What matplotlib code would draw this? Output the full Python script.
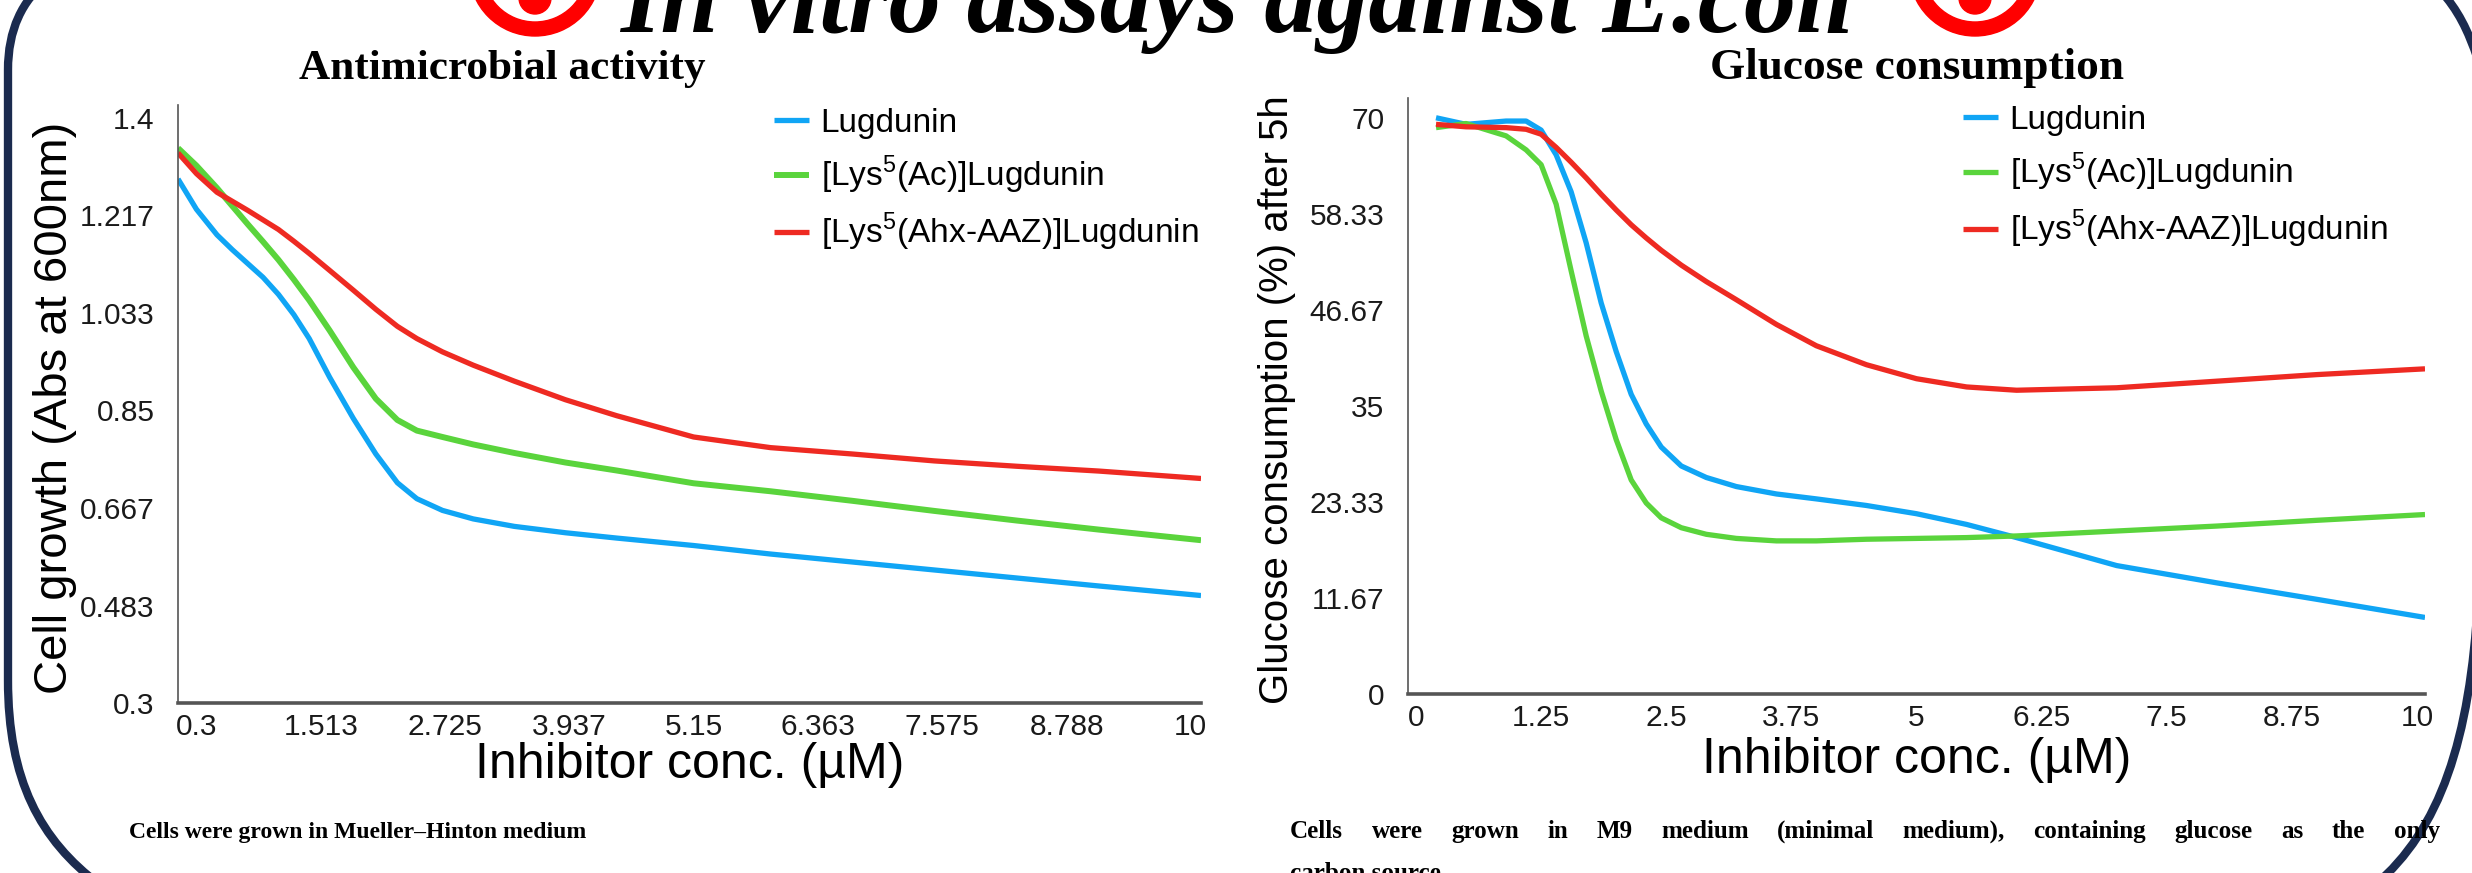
import matplotlib
matplotlib.use("Agg")
import matplotlib.pyplot as plt
from matplotlib.patches import Annulus, Circle, PathPatch
from matplotlib.path import Path

plt.rcParams["font.family"] = "Liberation Sans"

# ---- data ----
series_names = ["Lugdunin",
                r"[Lys$^{\mathregular{5}}$(Ac)]Lugdunin",
                r"[Lys$^{\mathregular{5}}$(Ahx-AAZ)]Lugdunin"]
colors = ["#10a5f5", "#5ad43c", "#ee2a22"]

# antimicrobial activity (cell growth, Abs 600nm)
x_growth = [0.12, 0.3, 0.5, 0.65, 0.8, 0.95, 1.1, 1.25, 1.4, 1.6, 1.83, 2.05,
            2.26, 2.45, 2.7, 3.0, 3.4, 3.9, 4.4, 5.15, 5.9, 6.7, 7.5, 8.3,
            9.1, 10.1]
growth_lug = [1.285, 1.228, 1.18, 1.152, 1.126, 1.1, 1.068, 1.03, 0.985, 0.912,
              0.835, 0.768, 0.714, 0.684, 0.662, 0.646, 0.632, 0.62, 0.61,
              0.596, 0.58, 0.565, 0.55, 0.535, 0.52, 0.502]
growth_ac = [1.343, 1.31, 1.268, 1.234, 1.2, 1.167, 1.133, 1.096, 1.057, 1.0,
             0.931, 0.872, 0.832, 0.812, 0.8, 0.786, 0.77, 0.752, 0.737, 0.713,
             0.698, 0.68, 0.661, 0.643, 0.626, 0.606]
growth_aaz = [1.334, 1.295, 1.26, 1.243, 1.226, 1.208, 1.19, 1.168, 1.145,
              1.113, 1.076, 1.04, 1.008, 0.985, 0.96, 0.935, 0.905, 0.87, 0.84,
              0.8, 0.78, 0.768, 0.755, 0.745, 0.736, 0.722]
growth_yticks = [0.3, 0.483, 0.667, 0.85, 1.033, 1.217, 1.4]
growth_xticks = [0.3, 1.513, 2.725, 3.937, 5.15, 6.363, 7.575, 8.788, 10]

# glucose consumption (%) after 5h
x_gluc = [0.2, 0.5, 0.9, 1.1, 1.25, 1.4, 1.55, 1.7, 1.85, 2.0, 2.15, 2.3, 2.45,
          2.65, 2.9, 3.2, 3.6, 4.0, 4.5, 5.0, 5.5, 6.0, 7.0, 8.0, 9.0, 10.08]
gluc_lug = [70.0, 69.2, 69.6, 69.6, 68.5, 65.5, 61.0, 54.8, 47.5, 41.6, 36.4,
            32.8, 30.0, 27.7, 26.3, 25.2, 24.3, 23.7, 22.9, 21.9, 20.6, 19.0,
            15.6, 13.5, 11.5, 9.3]
gluc_ac = [68.8, 69.3, 67.8, 66.1, 64.3, 59.5, 51.4, 43.5, 36.8, 30.9, 26.0,
           23.2, 21.4, 20.2, 19.4, 18.9, 18.6, 18.6, 18.8, 18.9, 19.0, 19.2,
           19.8, 20.4, 21.1, 21.8]
gluc_aaz = [69.2, 68.9, 68.8, 68.6, 68.0, 66.4, 64.6, 62.7, 60.7, 58.8, 57.0,
            55.4, 53.9, 52.1, 50.1, 47.9, 44.9, 42.3, 40.0, 38.3, 37.3, 36.9,
            37.2, 38.0, 38.8, 39.5]
gluc_yticks = [0, 11.67, 23.33, 35, 46.67, 58.33, 70]
gluc_xticks = [0, 1.25, 2.5, 3.75, 5, 6.25, 7.5, 8.75, 10]

W, H = 2472, 873
fig = plt.figure(figsize=(W / 100, H / 100), dpi=100)

# background layer in pixel coordinates (frame, headings, captions)
bg = fig.add_axes([0, 0, 1, 1])
bg.set_xlim(0, W)
bg.set_ylim(H, 0)
bg.axis("off")
renderer = fig.canvas.get_renderer()


def fit_width(t, target):
    w = t.get_window_extent(renderer).width
    t.set_fontsize(t.get_fontsize() * target / w)


def justify(words, x0, x1, y, **kw):
    texts = [bg.text(x0, y, w, **kw) for w in words]
    widths = [t.get_window_extent(renderer).width for t in texts]
    gap = (x1 - x0 - sum(widths)) / (len(words) - 1)
    x = x0
    for t, w in zip(texts, widths):
        t.set_x(x)
        x += w + gap


navy = "#1b2b4f"
frame_left = Path([(48, -20), (22, 0), (8, 30), (8, 70), (8, 680),
                   (8, 780), (40, 840), (100, 885)],
                  [Path.MOVETO, Path.CURVE4, Path.CURVE4, Path.CURVE4, Path.LINETO,
                   Path.CURVE4, Path.CURVE4, Path.CURVE4])
frame_rb = Path([(2478, 600), (2470, 740), (2440, 830), (2375, 885)],
                [Path.MOVETO, Path.CURVE4, Path.CURVE4, Path.CURVE4])
frame_rt = Path([(2440, -10), (2458, 10), (2468, 30), (2478, 60)],
                [Path.MOVETO, Path.CURVE4, Path.CURVE4, Path.CURVE4])
for p in (frame_left, frame_rb, frame_rt):
    bg.add_patch(PathPatch(p, fill=False, edgecolor=navy, lw=6))

# red icons beside the (cropped) main heading
for cx in (535, 1975):
    bg.add_patch(Annulus((cx, -30), 66, 14, color="#ff0000"))
    bg.add_patch(Circle((cx, -2), 16, color="#ff0000"))

head = bg.text(1237, 32, "In vitro assays against E.coli", ha="center",
               va="baseline", family="Liberation Serif", weight="bold",
               style="italic", fontsize=60)
fit_width(head, 1235)

slab = dict(family="Liberation Serif", weight="bold", color="black")
t1 = bg.text(502, 79, "Antimicrobial activity", ha="center", va="baseline",
             fontsize=30, **slab)
fit_width(t1, 405)
t2 = bg.text(1917, 79, "Glucose consumption", ha="center", va="baseline",
             fontsize=30, **slab)
fit_width(t2, 413)

c1 = bg.text(129, 838, "Cells were grown in Mueller\u2013Hinton medium",
             ha="left", va="baseline", fontsize=16, **slab)
fit_width(c1, 459)
cap_size = c1.get_fontsize() * 1.06
justify("Cells were grown in M9 medium (minimal medium), containing glucose "
        "as the only".split(), 1290, 2440, 838, ha="left", va="baseline",
        fontsize=cap_size, **slab)
bg.text(1290, 880, "carbon source", ha="left", va="baseline",
        fontsize=cap_size, **slab)

# axis titles
bg.text(55, 408, "Cell growth (Abs at 600nm)", rotation=90, ha="center",
        va="center", fontsize=34)
bg.text(690, 765, "Inhibitor conc. (\u00b5M)", ha="center", va="center",
        fontsize=36)
bg.text(1277, 400, "Glucose consumption (%) after 5h", rotation=90,
        ha="center", va="center", fontsize=29)
bg.text(1917, 760, "Inhibitor conc. (\u00b5M)", ha="center", va="center",
        fontsize=36)


def style_axes(ax):
    ax.patch.set_alpha(0)
    for s in ("top", "right"):
        ax.spines[s].set_visible(False)
    ax.spines["left"].set_color("#555555")
    ax.spines["left"].set_linewidth(1.2)
    ax.spines["bottom"].set_color("#555555")
    ax.spines["bottom"].set_linewidth(2.6)
    ax.tick_params(length=0, labelsize=21.5, colors="#1a1a1a")
    ax.tick_params(axis="y", pad=17)
    ax.tick_params(axis="x", pad=7)


ax1 = fig.add_axes([178 / W, 170 / H, 1023 / W, 598 / H])
for y, c, n, lw in zip([growth_lug, growth_ac, growth_aaz], colors,
                       series_names, [3.8, 4.3, 3.8]):
    ax1.plot(x_growth, y, color=c, lw=lw, label=n, solid_capstyle="butt",
             solid_joinstyle="round")
ax1.set_xlim(0.12, 10.1)
ax1.set_ylim(0.3, 1.424)
ax1.set_yticks(growth_yticks, [f"{v:g}" for v in growth_yticks])
ax1.set_xticks(growth_xticks, [f"{v:g}" for v in growth_xticks])
style_axes(ax1)
ax1.legend(loc="upper left", bbox_to_anchor=(774 / W, 1 - 108 / H),
           bbox_transform=fig.transFigure, frameon=False, fontsize=24,
           handlelength=1.05, handletextpad=0.35, labelspacing=0.45,
           borderpad=0, borderaxespad=0)

ax2 = fig.add_axes([1408 / W, 179 / H, 1017 / W, 596 / H])
for y, c, n in zip([gluc_lug, gluc_ac, gluc_aaz], colors, series_names):
    ax2.plot(x_gluc, y, color=c, lw=3.8, label=n, solid_capstyle="butt",
             solid_joinstyle="round")
ax2.set_xlim(-0.08, 10.08)
ax2.set_ylim(0, 72.4)
ax2.set_yticks(gluc_yticks, [f"{v:g}" for v in gluc_yticks])
ax2.set_xticks(gluc_xticks, [f"{v:g}" for v in gluc_xticks])
style_axes(ax2)
ax2.legend(loc="upper left", bbox_to_anchor=(1963 / W, 1 - 105 / H),
           bbox_transform=fig.transFigure, frameon=False, fontsize=24,
           handlelength=1.05, handletextpad=0.35, labelspacing=0.45,
           borderpad=0, borderaxespad=0)

fig.savefig("out.png", dpi=100, facecolor="white")
